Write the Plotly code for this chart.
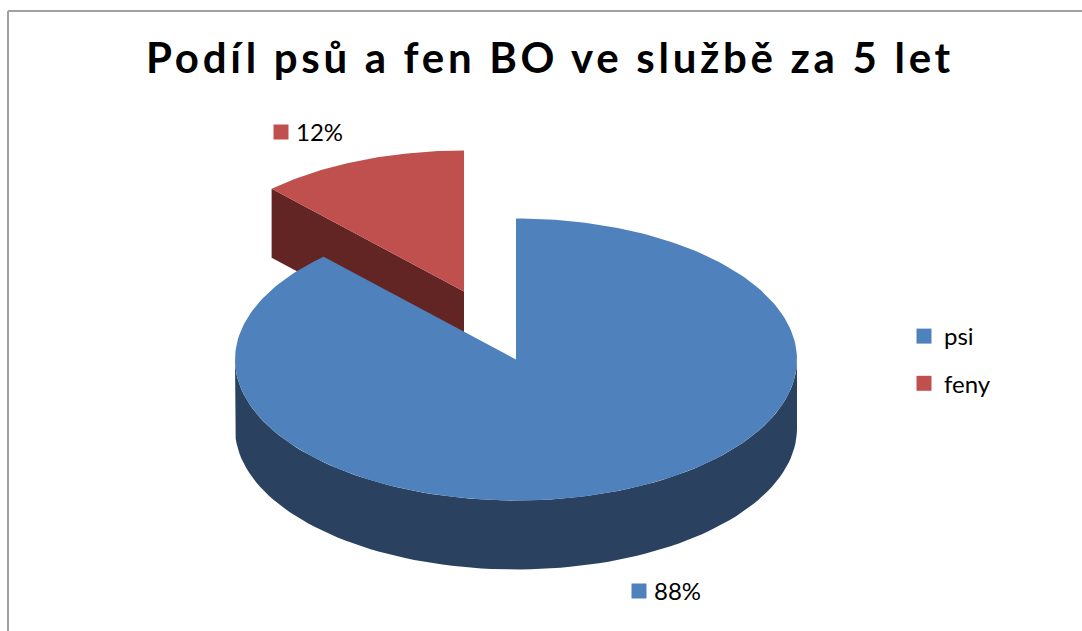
import numpy as np
import plotly.graph_objects as go

title_text = "Podíl psů a fen BO ve službě za 5 let"
categories = ["psi", "feny"]
values = [88, 12]
top_colors = ["#4F81BD", "#C0504D"]
side_colors = ["#2A4260", "#632523"]

W, H = 1082, 631
CX, CY, RX, RY, DEPTH = 516, 359.5, 281, 141, 69
EXPLODE = (-52, -68)


def rim(t0, t1, cx, cy, n=90):
    t = np.radians(np.linspace(t0, t1, n))
    return cx + RX * np.sin(t), cy - RY * np.cos(t)


share = np.array(values) / sum(values) * 360.0
fig = go.Figure()


def poly(x, y, color):
    fig.add_trace(go.Scatter(x=list(x), y=list(y), mode="lines", fill="toself",
                             fillcolor=color, line=dict(width=0), showlegend=False,
                             hoverinfo="skip"))


# exploded slice: its radial wall, then its top
rcx, rcy = CX + EXPLODE[0], CY + EXPLODE[1]
a0 = share[0]
a1 = share[0] + share[1]
ex, ey = rim(a0, a0, rcx, rcy, 1)
poly([ex[0], rcx, rcx, ex[0]], [ey[0], rcy, rcy + DEPTH, ey[0] + DEPTH], side_colors[1])
x, y = rim(a0, a1, rcx, rcy)
poly(np.r_[rcx, x], np.r_[rcy, y], top_colors[1])

# main slice: front rim wall, then its top
x, y = rim(90, 270, CX, CY)
poly(np.r_[x, x[::-1]], np.r_[y, y[::-1] + DEPTH], side_colors[0])
x, y = rim(0, a0, CX, CY, 240)
poly(np.r_[CX, x], np.r_[CY, y], top_colors[0])

# data labels
label_pos = [(639, 591), (281, 132)]
annotations = []
for v, c, (lx, ly) in zip(values, top_colors, label_pos):
    fig.add_trace(go.Scatter(x=[lx], y=[ly], mode="markers",
                             marker=dict(symbol="square", size=15, color=c),
                             showlegend=False, hoverinfo="skip"))
    annotations.append(dict(x=lx + 13, y=ly - 1, xref="x", yref="y", text=f"{v}%", showarrow=False,
                            xanchor="left", yanchor="middle",
                            font=dict(family="Lato", size=24, color="#000000")))

# legend entries
for name, c in zip(categories, top_colors):
    fig.add_trace(go.Scatter(x=[None], y=[None], mode="markers", name=name, legendgroup=name,
                             marker=dict(symbol="square", size=15, color=c)))

fig.update_layout(
    width=W, height=H, autosize=False,
    margin=dict(l=0, r=0, t=0, b=0),
    paper_bgcolor="#FFFFFF", plot_bgcolor="#FFFFFF",
    xaxis=dict(range=[0, W], visible=False, fixedrange=True),
    yaxis=dict(range=[H, 0], visible=False, fixedrange=True),
    title=dict(text=f"<b>{title_text}</b>", x=550 / W, xanchor="center",
               y=1 - 58 / H, yanchor="middle",
               font=dict(family="Lato", size=42, color="#000000")),
    legend=dict(x=904 / W, y=1 - 314 / H, xanchor="left", yanchor="top",
                tracegroupgap=13, bgcolor="rgba(0,0,0,0)",
                font=dict(family="Lato", size=24, color="#000000"),
                itemwidth=30),
    annotations=annotations,
    shapes=[
        dict(type="line", x0=8, x1=8, y0=11, y1=H, line=dict(color="#A0A0A0", width=2)),
        dict(type="line", x0=8, x1=W, y0=11, y1=11, line=dict(color="#A0A0A0", width=2)),
    ],
)

fig.write_html("out.html", config=dict(displayModeBar=False),
               post_script="document.body.style.margin='0';document.querySelectorAll('.gtitle').forEach(function(t){t.style.letterSpacing='3.7px';});")
